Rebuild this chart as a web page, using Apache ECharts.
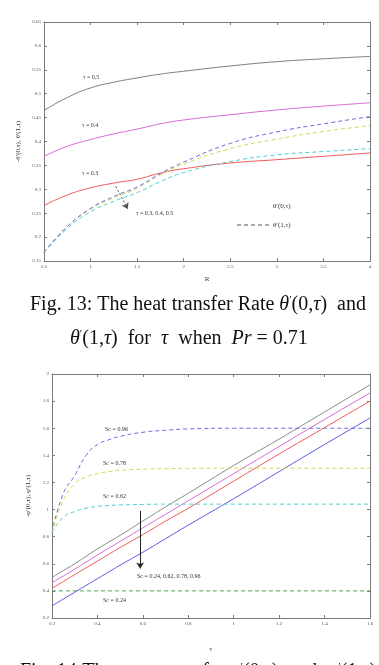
<!DOCTYPE html>
<html><head><meta charset="utf-8">
<script src="https://cdn.jsdelivr.net/npm/echarts@6/dist/echarts.min.js"></script>
<style>html,body{margin:0;padding:0;background:#fff}#c{width:379px;height:665px}</style>
</head><body><div id="c"></div>
<script>
// ---- Fig. 13 data (x = R) ----
const R = [0.5, 0.75, 1, 1.25, 1.5, 1.75, 2, 2.5, 3, 3.5, 4];
const theta0_tau05 = [0.465, 0.492, 0.512, 0.524, 0.533, 0.541, 0.547, 0.558, 0.567, 0.573, 0.578];
const theta0_tau04 = [0.369, 0.390, 0.404, 0.416, 0.426, 0.437, 0.445, 0.456, 0.466, 0.474, 0.481];
const theta0_tau03 = [0.266, 0.288, 0.303, 0.313, 0.321, 0.334, 0.343, 0.355, 0.362, 0.369, 0.376];
const theta1_tau05 = [0.168, 0.222, 0.260, 0.285, 0.305, 0.333, 0.357, 0.396, 0.420, 0.437, 0.452];
const theta1_tau04 = [0.168, 0.222, 0.258, 0.282, 0.302, 0.330, 0.353, 0.385, 0.405, 0.421, 0.433];
const theta1_tau03 = [0.168, 0.218, 0.253, 0.275, 0.293, 0.316, 0.335, 0.358, 0.372, 0.379, 0.385];
const rTicks = { min: 0.5, max: 4, interval: 0.5 };
const thetaTicks = { min: 0.15, max: 0.65, interval: 0.05 };

// ---- Fig. 14 data (x = tau) ----
const tau = [0.2, 0.25, 0.3, 0.35, 0.4, 0.45, 0.5, 0.6, 0.7, 0.8, 1.0, 1.2, 1.4, 1.6];
const phi0_gray    = [0.50, 0.55, 0.60, 0.655, 0.71, 0.76, 0.81, 0.915, 1.02, 1.12, 1.325, 1.52, 1.72, 1.92];
const phi0_magenta = [0.46, 0.51, 0.56, 0.612, 0.665, 0.715, 0.765, 0.865, 0.965, 1.065, 1.265, 1.465, 1.665, 1.86];
const phi0_red     = [0.42, 0.47, 0.52, 0.57, 0.62, 0.67, 0.72, 0.815, 0.915, 1.01, 1.21, 1.41, 1.605, 1.80];
const phi0_blue    = [0.29, 0.34, 0.39, 0.44, 0.49, 0.54, 0.59, 0.685, 0.785, 0.885, 1.08, 1.28, 1.48, 1.675];
const phi1_sc096   = [0.83, 1.12, 1.25, 1.40, 1.48, 1.515, 1.54, 1.57, 1.585, 1.595, 1.60, 1.60, 1.60, 1.60];
const phi1_sc078   = [0.83, 1.07, 1.19, 1.24, 1.265, 1.28, 1.29, 1.298, 1.302, 1.303, 1.305, 1.305, 1.305, 1.305];
const phi1_sc062   = [0.83, 0.945, 0.985, 1.01, 1.023, 1.03, 1.034, 1.038, 1.04, 1.04, 1.04, 1.04, 1.04, 1.04];
const phi1_sc024   = [0.40, 0.40, 0.40, 0.40, 0.40, 0.40, 0.40, 0.40, 0.40, 0.40, 0.40, 0.40, 0.40, 0.40];
const tauTicks = { min: 0.2, max: 1.6, interval: 0.2 };
const phiTicks = { min: 0.2, max: 2, interval: 0.2 };

const SERIF = '"Liberation Serif", "DejaVu Serif", serif';
const FRAME = '#7a7a7a';

function pairs(xs, ys) { return xs.map((x, i) => [x, ys[i]]); }

function axis(kind, grid, ticks, pos, opts) {
  const showLabel = (pos === 'bottom' || pos === 'left');
  return Object.assign({
    type: 'value', gridIndex: grid, position: pos,
    min: ticks.min, max: ticks.max, interval: ticks.interval,
    axisLine: { show: true, onZero: false, lineStyle: { color: FRAME, width: 1 } },
    axisTick: { show: true, inside: true, length: 3, lineStyle: { color: FRAME } },
    axisLabel: { show: showLabel, fontSize: 5, color: '#555', fontFamily: SERIF, margin: 3 },
    splitLine: { show: false }
  }, opts || {});
}

function line(name, xi, yi, data, color, dashed) {
  return {
    name: name, type: 'line', xAxisIndex: xi, yAxisIndex: yi, data: data,
    showSymbol: false, symbol: 'none', smooth: true, silent: true,
    lineStyle: { color: color, width: 1, type: dashed ? [4, 3] : 'solid' }
  };
}

const nameStyle = { fontSize: 7, color: '#333', fontFamily: SERIF };

const chart = echarts.init(document.getElementById('c'), null, { renderer: 'canvas' });

function txt(x, y, text, size, align) {
  return { type: 'text', x: x, y: y, silent: true,
    style: { text: text, fontSize: size || 6, fontFamily: SERIF, fill: '#333',
      align: align || 'left', verticalAlign: 'middle' } };
}

const capRich = {
  n: { fontSize: 20, fontFamily: SERIF, fill: '#111', color: '#111' },
  i: { fontSize: 20, fontFamily: SERIF, fontStyle: 'italic', fill: '#111', color: '#111' },
  p: { fontSize: 11, fontFamily: SERIF, fill: '#111', color: '#111', verticalAlign: 'top', padding: [0, 0, 10, 0] }
};

const option = {
  animation: false,
  backgroundColor: '#ffffff',
  grid: [
    { left: 44, top: 22, width: 326, height: 239 },
    { left: 52, top: 374, width: 318, height: 244 }
  ],
  xAxis: [
    axis('x', 0, rTicks, 'bottom', { name: 'R', nameLocation: 'middle', nameGap: 15, nameTextStyle: nameStyle }),
    axis('x', 0, rTicks, 'top'),
    axis('x', 1, tauTicks, 'bottom', { name: 'τ', nameLocation: 'middle', nameGap: 28, nameTextStyle: nameStyle }),
    axis('x', 1, tauTicks, 'top')
  ],
  yAxis: [
    axis('y', 0, thetaTicks, 'left', { name: '-θ′(0,τ), θ′(1,τ)', nameLocation: 'middle', nameGap: 20, nameRotate: 90, nameTextStyle: nameStyle }),
    axis('y', 0, thetaTicks, 'right'),
    axis('y', 1, phiTicks, 'left', { name: '-φ′(0,τ), φ′(1,τ)', nameLocation: 'middle', nameGap: 16, nameRotate: 90, nameTextStyle: nameStyle }),
    axis('y', 1, phiTicks, 'right')
  ],
  series: [
    line('θ0 τ=0.5', 0, 0, pairs(R, theta0_tau05), '#7f7f7f', false),
    line('θ0 τ=0.4', 0, 0, pairs(R, theta0_tau04), '#d86ad8', false),
    line('θ0 τ=0.3', 0, 0, pairs(R, theta0_tau03), '#f05a5a', false),
    line('θ1 τ=0.3', 0, 0, pairs(R, theta1_tau03), '#4fcfcf', true),
    line('θ1 τ=0.4', 0, 0, pairs(R, theta1_tau04), '#d6d65a', true),
    Object.assign(line('θ1 τ=0.5', 0, 0, pairs(R, theta1_tau05), '#6a6ae0', true), {
      markLine: {
        silent: true, symbol: ['none', 'arrow'], symbolSize: 6, animation: false,
        label: { show: false },
        lineStyle: { color: '#555', width: 1, type: [2, 2] },
        data: [[{ coord: [1.27, 0.306] }, { coord: [1.40, 0.259] }]]
      }
    }),
    line('φ0 1', 2, 2, pairs(tau, phi0_gray), '#8a8a8a', false),
    line('φ0 2', 2, 2, pairs(tau, phi0_magenta), '#d86ad8', false),
    line('φ0 3', 2, 2, pairs(tau, phi0_red), '#f05a5a', false),
    Object.assign(line('φ0 4', 2, 2, pairs(tau, phi0_blue), '#5a5ae6', false), {
      markLine: {
        silent: true, symbol: ['none', 'arrow'], symbolSize: 6, animation: false,
        label: { show: false },
        lineStyle: { color: '#222', width: 1, type: 'solid' },
        data: [[{ coord: [0.588, 0.99] }, { coord: [0.588, 0.565] }]]
      }
    }),
    line('φ1 0.96', 2, 2, pairs(tau, phi1_sc096), '#6a6ae0', true),
    line('φ1 0.78', 2, 2, pairs(tau, phi1_sc078), '#d6d65a', true),
    line('φ1 0.62', 2, 2, pairs(tau, phi1_sc062), '#4fcfcf', true),
    line('φ1 0.24', 2, 2, pairs(tau, phi1_sc024), '#4aa04a', true)
  ],
  graphic: [
    // Fig. 13 annotations
    txt(83, 77, 'τ = 0.5'),
    txt(82, 125, 'τ = 0.4'),
    txt(82, 173, 'τ = 0.3'),
    txt(136, 213, 'τ = 0.3, 0.4, 0.5'),
    txt(273, 206, 'θ′(0,τ)', 7),
    { type: 'line', silent: true, shape: { x1: 237, y1: 225, x2: 269, y2: 225 },
      style: { stroke: '#555', lineWidth: 1, lineDash: [4, 3] } },
    txt(273, 225, 'θ′(1,τ)', 7),
    // Fig. 14 annotations
    txt(105, 429, 'Sc = 0.96'),
    txt(103, 463, 'Sc = 0.78'),
    txt(103, 496, 'Sc = 0.62'),
    txt(103, 600, 'Sc = 0.24'),
    txt(137, 576, 'Sc = 0.24, 0.62, 0.78, 0.96'),
    // captions
    { type: 'text', x: 30, y: 305, silent: true,
      style: { text: '{n|Fig. 13: The heat transfer Rate }{i|θ}{p|′}{n|(0,}{i|τ}{n|)  and}', rich: capRich, verticalAlign: 'middle', align: 'left' } },
    { type: 'text', x: 70, y: 339, silent: true,
      style: { text: '{i|θ}{p|′}{n|(1,}{i|τ}{n|)  for  }{i|τ}{n|  when  }{i|Pr}{n| = 0.71}', rich: capRich, verticalAlign: 'middle', align: 'left' } },
    { type: 'text', x: 20, y: 672, silent: true,
      style: { text: '{n|Fig. 14:The mass transfer }{i|φ}{p|′}{n|(0,}{i|τ}{n|)  and  }{i|φ}{p|′}{n|(1,}{i|τ}{n|)}', rich: capRich, verticalAlign: 'middle', align: 'left' } }
  ]
};
chart.setOption(option);
</script>
</body></html>
